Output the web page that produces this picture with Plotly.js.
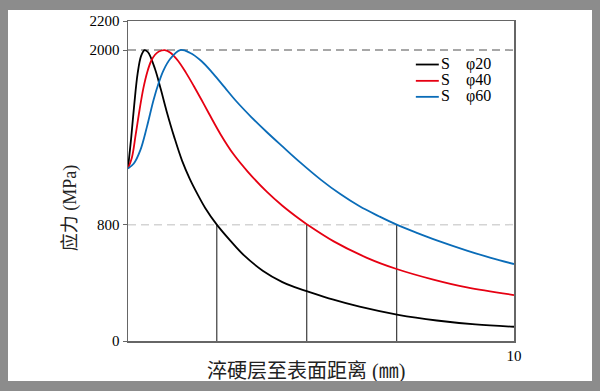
<!DOCTYPE html>
<html>
<head>
<meta charset="utf-8">
<script src="https://cdn.plot.ly/plotly-3.0.1.min.js"></script>
<style>
  html, body { margin: 0; padding: 0; background: #8c8c8c; width: 600px; height: 391px; overflow: hidden; }
  #chart { position: absolute; left: 8px; top: 10px; width: 584px; height: 371px; background: #fff; }
</style>
</head>
<body>
<div id="chart"></div>
<script>
// ---- data (x: mm, y: MPa) ----
const seriesNames = ['S\u2003\u03c620', 'S\u2003\u03c640', 'S\u2003\u03c660'];
const seriesColors = ['#000000', '#e60012', '#0a6cb8'];

const x20 = [0, 0.08, 0.16, 0.25, 0.34, 0.43, 0.52, 0.70, 0.85, 1.00, 1.20, 1.40, 1.60, 1.80, 2.00, 2.30, 2.65, 3.00, 3.50, 4.00, 4.30, 4.63, 5.30, 6.00, 7.00, 8.00, 9.00, 10];
const y20 = [1186, 1390, 1620, 1840, 1960, 2000, 1985, 1870, 1730, 1580, 1400, 1240, 1115, 1010, 915, 800, 690, 590, 482, 405, 372, 343, 286, 236, 180, 141, 114, 98];

const x40 = [0, 0.10, 0.20, 0.30, 0.40, 0.50, 0.60, 0.70, 0.80, 0.95, 1.10, 1.30, 1.50, 1.70, 1.90, 2.10, 2.40, 2.73, 3.10, 3.60, 4.00, 4.46, 4.63, 5.33, 6.19, 6.96, 7.91, 8.78, 10];
const y40 = [1186, 1260, 1420, 1590, 1740, 1850, 1925, 1968, 1990, 2000, 1982, 1925, 1845, 1755, 1660, 1562, 1420, 1285, 1165, 1025, 930, 835, 803, 685, 572, 495, 422, 368, 316];

const x60 = [0, 0.15, 0.32, 0.49, 0.66, 0.79, 0.92, 1.10, 1.35, 1.60, 1.90, 2.20, 2.50, 2.80, 3.20, 3.60, 4.00, 4.46, 5.00, 5.50, 6.00, 6.50, 6.96, 7.50, 8.00, 8.78, 9.40, 10];
const y60 = [1186, 1220, 1312, 1472, 1655, 1770, 1861, 1942, 2000, 1982, 1925, 1840, 1745, 1650, 1538, 1435, 1338, 1228, 1108, 1010, 926, 858, 800, 742, 692, 622, 572, 529];

const dropX = [2.30, 4.63, 6.96];      // where each curve meets 800 MPa
const dropLevel = 800;
const peakLevel = 2000;
const xRange = [0, 10];
const yRange = [0, 2200];
const yTicks = [0, 800, 2000, 2200];
const xTicks = [10];

const yTitle = '应力 (MPa)';
const xTitle = '淬硬层至表面距离 (㎜)';

// ---- traces ----
const traces = [];
traces.push({ x: xRange, y: [peakLevel, peakLevel], mode: 'lines', line: { color: '#8a8a8a', width: 1.5, dash: '8px,5px' }, hoverinfo: 'skip', showlegend: false });
traces.push({ x: xRange, y: [dropLevel, dropLevel], mode: 'lines', line: { color: '#d4d4d4', width: 1.5, dash: '8px,5px' }, hoverinfo: 'skip', showlegend: false });
dropX.forEach(function (dx) {
  traces.push({ x: [dx, dx], y: [0, dropLevel], mode: 'lines', line: { color: '#3a3a3a', width: 1.2 }, hoverinfo: 'skip', showlegend: false });
});
[[x20, y20], [x40, y40], [x60, y60]].forEach(function (s, i) {
  traces.push({ x: s[0], y: s[1], mode: 'lines', name: seriesNames[i], line: { color: seriesColors[i], width: 1.8, shape: 'spline', smoothing: 1 }, showlegend: false });
});

// ---- manual legend ----
const legY = [0.864, 0.813, 0.763];
const shapes = [];
const annotations = [];
seriesNames.forEach(function (n, i) {
  shapes.push({ type: 'line', xref: 'paper', yref: 'paper', x0: 0.7457, x1: 0.8052, y0: legY[i], y1: legY[i], line: { color: seriesColors[i], width: 1.8 } });
  annotations.push({ xref: 'paper', yref: 'paper', x: 0.806, y: legY[i] + 0.003, xanchor: 'left', yanchor: 'middle', showarrow: false, text: n, font: { family: 'Liberation Serif, DejaVu Serif, serif', size: 16, color: '#000' } });
});
annotations.push({ xref: 'paper', yref: 'paper', x: 0.461, y: -0.096, xanchor: 'center', yanchor: 'middle', showarrow: false, text: xTitle, font: { family: 'Liberation Serif, Noto Sans CJK SC, serif', size: 20, color: '#222' } });
annotations.push({ xref: 'paper', yref: 'paper', x: -0.1467, y: 0.4158, xanchor: 'center', yanchor: 'middle', textangle: -90, showarrow: false, text: yTitle, font: { family: 'Liberation Serif, Noto Sans CJK SC, serif', size: 18, color: '#222' } });

const layout = {
  width: 584, height: 371,
  paper_bgcolor: '#ffffff', plot_bgcolor: '#ffffff',
  margin: { l: 119.7, r: 77.7, t: 10.7, b: 39.7 },
  showlegend: false,
  xaxis: {
    range: xRange, tickvals: xTicks, ticktext: xTicks.map(String), ticks: '',
    showgrid: false, zeroline: false, showline: true, linecolor: '#666', linewidth: 1.5, mirror: true,
    tickfont: { family: 'Liberation Serif, serif', size: 15, color: '#000' }, fixedrange: true
  },
  yaxis: {
    range: yRange, tickvals: yTicks, ticktext: yTicks.map(String), ticks: 'outside', ticklen: 4, tickcolor: '#666', tickwidth: 1,
    showgrid: false, zeroline: false, showline: true, linecolor: '#666', linewidth: 1.5, mirror: true,
    tickfont: { family: 'Liberation Serif, serif', size: 15, color: '#000' }, fixedrange: true
  },
  shapes: shapes,
  annotations: annotations
};

Plotly.newPlot('chart', traces, layout, { displayModeBar: false, staticPlot: true });
</script>
</body>
</html>
